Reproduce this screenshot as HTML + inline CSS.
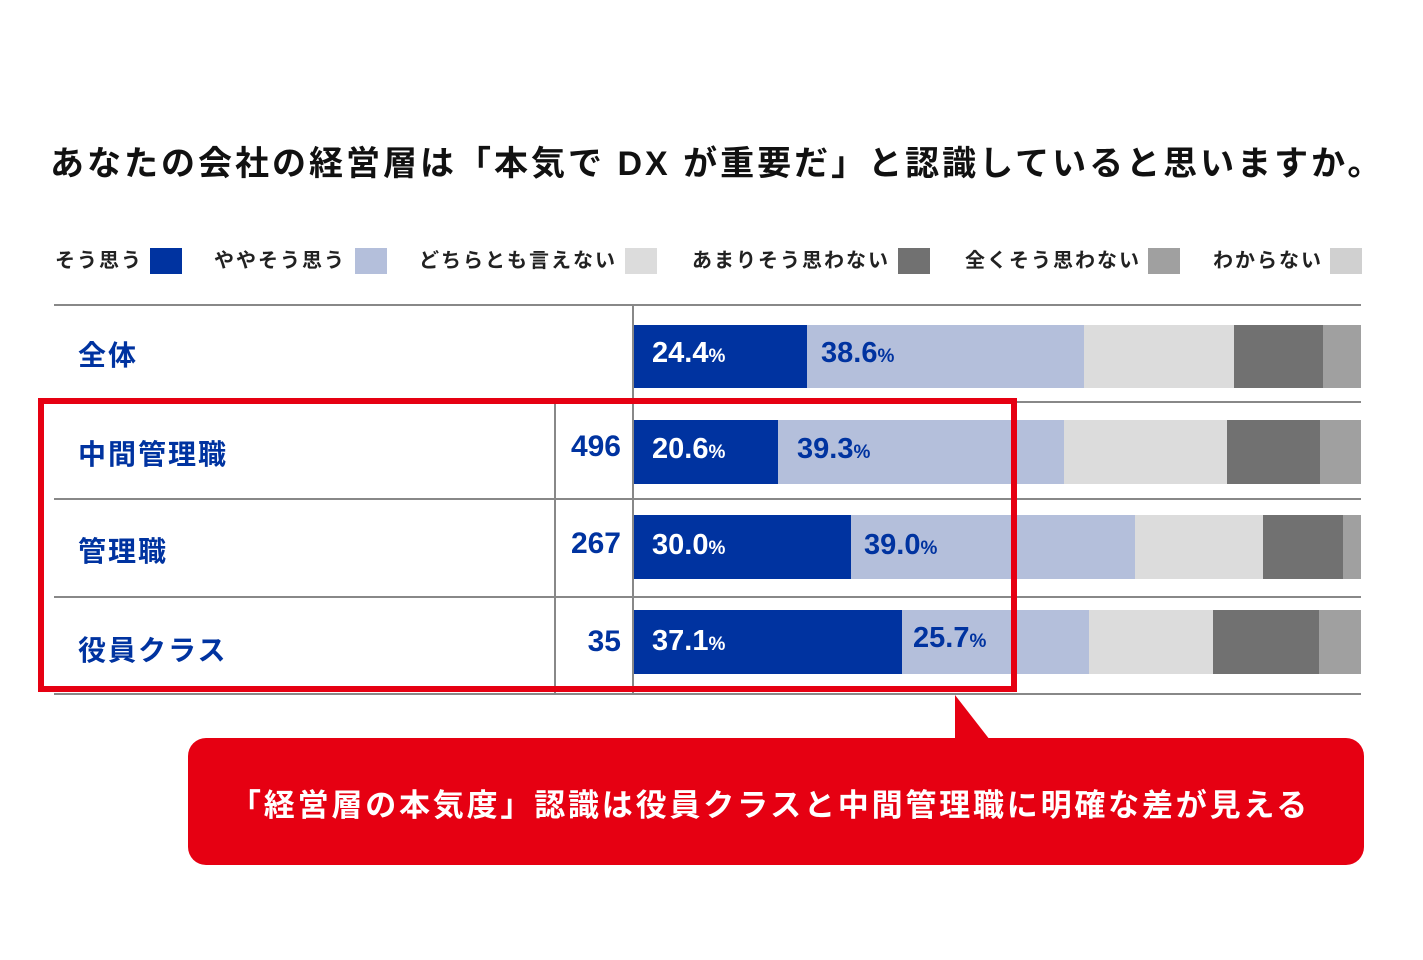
<!DOCTYPE html>
<html><head><meta charset="utf-8"><style>
body{margin:0;width:1423px;height:960px;background:#fff;position:relative;overflow:hidden;font-family:"Liberation Sans","Noto Sans CJK JP",sans-serif;}
.a{position:absolute;}
.t{font-weight:bold;white-space:nowrap;}
.sq{position:absolute;top:248px;width:32px;height:26px;}
.lg{position:absolute;top:244px;font-size:20px;font-weight:bold;color:#222;white-space:nowrap;letter-spacing:2px;}
.lab{position:absolute;left:78px;font-size:28px;font-weight:bold;color:#0033a0;letter-spacing:2px;}
.n{position:absolute;width:66px;left:555px;text-align:right;font-size:30px;font-weight:bold;color:#0033a0;}
.p{position:absolute;font-size:29px;font-weight:bold;}
.p small{font-size:19px;}
</style></head><body>
<div class="a t" style="left:50px;top:136px;font-size:34px;color:#111;letter-spacing:3px;">あなたの会社の経営層は「本気で DX が重要だ」と認識していると思いますか。</div>

<div class="lg" style="left:55px">そう思う</div><div class="sq" style="left:150px;background:#0033a0"></div>
<div class="lg" style="left:214px">ややそう思う</div><div class="sq" style="left:355px;background:#b4bfdb"></div>
<div class="lg" style="left:419px">どちらとも言えない</div><div class="sq" style="left:625px;background:#dcdcdc"></div>
<div class="lg" style="left:692px">あまりそう思わない</div><div class="sq" style="left:898px;background:#717171"></div>
<div class="lg" style="left:965px">全くそう思わない</div><div class="sq" style="left:1148px;background:#a0a0a0"></div>
<div class="lg" style="left:1213px">わからない</div><div class="sq" style="left:1330px;background:#d0d0d0"></div>

<svg class="a" style="left:0;top:0" width="1423" height="960">
<g>
<rect x="634" y="325" width="173" height="63" fill="#0033a0"/><rect x="807" y="325" width="277" height="63" fill="#b4bfdb"/><rect x="1084" y="325" width="150" height="63" fill="#dcdcdc"/><rect x="1234" y="325" width="89" height="63" fill="#717171"/><rect x="1323" y="325" width="38" height="63" fill="#a0a0a0"/>
<rect x="634" y="420" width="144" height="64" fill="#0033a0"/><rect x="778" y="420" width="286" height="64" fill="#b4bfdb"/><rect x="1064" y="420" width="163" height="64" fill="#dcdcdc"/><rect x="1227" y="420" width="93" height="64" fill="#717171"/><rect x="1320" y="420" width="41" height="64" fill="#a0a0a0"/>
<rect x="634" y="515" width="217" height="64" fill="#0033a0"/><rect x="851" y="515" width="284" height="64" fill="#b4bfdb"/><rect x="1135" y="515" width="128" height="64" fill="#dcdcdc"/><rect x="1263" y="515" width="80" height="64" fill="#717171"/><rect x="1343" y="515" width="18" height="64" fill="#a0a0a0"/>
<rect x="634" y="610" width="268" height="64" fill="#0033a0"/><rect x="902" y="610" width="187" height="64" fill="#b4bfdb"/><rect x="1089" y="610" width="124" height="64" fill="#dcdcdc"/><rect x="1213" y="610" width="106" height="64" fill="#717171"/><rect x="1319" y="610" width="42" height="64" fill="#a0a0a0"/>
</g>
<g fill="#888">
<rect x="54" y="304" width="1307" height="2"/><rect x="54" y="401" width="1307" height="2"/><rect x="54" y="498" width="1307" height="2"/><rect x="54" y="596" width="1307" height="2"/><rect x="54" y="693" width="1307" height="2"/>
<rect x="632" y="305" width="2" height="389"/><rect x="554" y="402" width="2" height="292"/>
</g>
<rect x="41" y="401" width="973" height="288" fill="none" stroke="#e60012" stroke-width="6"/>
<rect x="188" y="738" width="1176" height="127" rx="18" fill="#e60012"/>
<polygon points="955,695 990,740 955,740" fill="#e60012"/>
</svg>

<div class="lab" style="top:334px">全体</div>
<div class="lab" style="top:433px">中間管理職</div>
<div class="lab" style="top:530px">管理職</div>
<div class="lab" style="top:629px">役員クラス</div>
<div class="n" style="top:430px">496</div>
<div class="n" style="top:527px">267</div>
<div class="n" style="top:625px">35</div>

<div class="p" style="left:652px;top:337px;color:#fff">24.4<small>%</small></div>
<div class="p" style="left:821px;top:337px;color:#0033a0">38.6<small>%</small></div>
<div class="p" style="left:652px;top:433px;color:#fff">20.6<small>%</small></div>
<div class="p" style="left:797px;top:433px;color:#0033a0">39.3<small>%</small></div>
<div class="p" style="left:652px;top:529px;color:#fff">30.0<small>%</small></div>
<div class="p" style="left:864px;top:529px;color:#0033a0">39.0<small>%</small></div>
<div class="p" style="left:652px;top:625px;color:#fff">37.1<small>%</small></div>
<div class="p" style="left:913px;top:622px;color:#0033a0">25.7<small>%</small></div>

<div class="a t" style="left:230px;top:780px;font-size:31px;color:#fff;letter-spacing:2.8px;">「経営層の本気度」認識は役員クラスと中間管理職に明確な差が見える</div>
</body></html>
